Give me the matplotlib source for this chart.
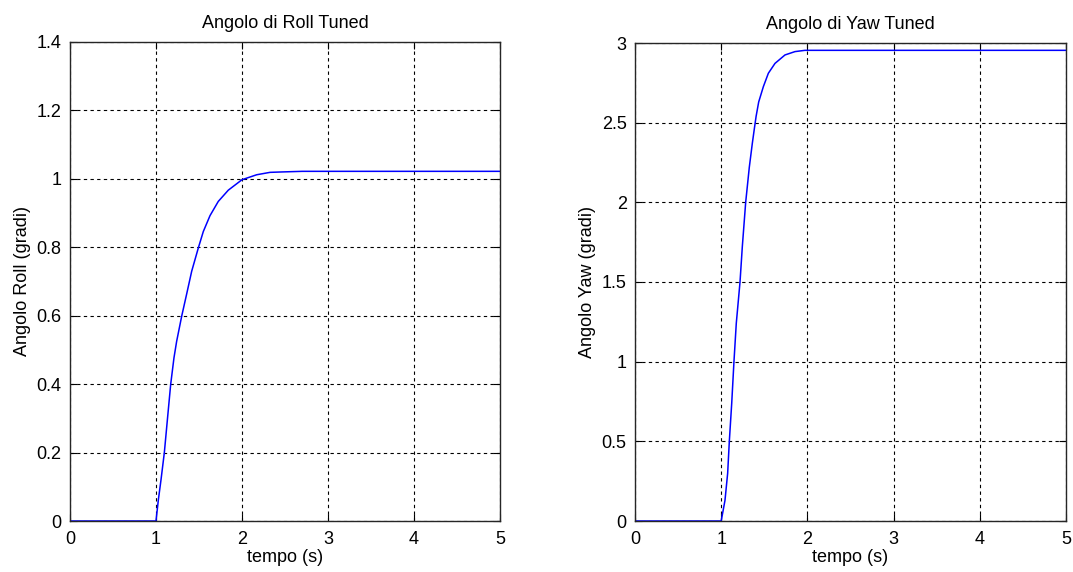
import matplotlib
matplotlib.use("Agg")
import matplotlib.pyplot as plt

plt.rcParams['font.family'] = ['Liberation Sans', 'DejaVu Sans']

# Roll step response (degrees)
roll_t = [0.0, 1.0, 1.027, 1.058, 1.097, 1.132, 1.171, 1.209, 1.24, 1.299, 1.357,
          1.415, 1.492, 1.55, 1.628, 1.724, 1.841, 2.0, 2.171, 2.326, 2.44, 2.7, 3.0, 5.0]
roll_y = [0.0, 0.0, 0.061, 0.12, 0.20, 0.295, 0.40, 0.477, 0.525, 0.599, 0.664,
          0.730, 0.798, 0.846, 0.8925, 0.934, 0.967, 0.9975, 1.012, 1.019, 1.020, 1.022, 1.022, 1.022]

# Yaw step response (degrees)
yaw_t = [0.0, 1.0, 1.044, 1.075, 1.094, 1.122, 1.148, 1.175, 1.218, 1.245, 1.284,
         1.326, 1.361, 1.384, 1.405, 1.435, 1.489, 1.547, 1.624, 1.74, 1.856, 1.972, 5.0]
yaw_y = [0.0, 0.0, 0.13, 0.30, 0.498, 0.739, 1.0, 1.241, 1.498, 1.722, 2.0,
         2.22, 2.37, 2.46, 2.54, 2.63, 2.726, 2.81, 2.872, 2.925, 2.946, 2.954, 2.954]

x_ticks = [0, 1, 2, 3, 4, 5]
roll_yticks = [0, 0.2, 0.4, 0.6, 0.8, 1.0, 1.2, 1.4]
yaw_yticks = [0, 0.5, 1.0, 1.5, 2.0, 2.5, 3.0]

W, H = 1073, 572
fig = plt.figure(figsize=(W / 100, H / 100), dpi=100)

ax1 = fig.add_axes([70 / W, (H - 521) / H, 430 / W, 479 / H])
ax2 = fig.add_axes([635 / W, (H - 521) / H, 431 / W, 478 / H])

fs = 13


def style(ax, t, y, yticks, ylim, title, ylabel, ytl):
    ax.plot(t, y, color='#0000ff', lw=1.1)
    ax.set_xlim(0, 5)
    ax.set_ylim(*ylim)
    ax.set_xticks(x_ticks)
    ax.set_xticklabels([str(v) for v in x_ticks], fontsize=fs)
    ax.set_yticks(yticks)
    ax.set_yticklabels(ytl, fontsize=fs)
    ax.grid(True, color='black', linestyle=(0, (3, 3)), linewidth=0.8)
    ax.tick_params(direction='in', top=True, right=True, length=5, width=0.8)
    ax.tick_params(axis='x', pad=7)
    ax.tick_params(axis='y', pad=6)
    for s in ax.spines.values():
        s.set_linewidth(1.0)
        s.set_color('#262626')
    ax.set_title(title, fontsize=fs, pad=10)
    ax.set_xlabel('tempo (s)', fontsize=fs, labelpad=1)
    ax.set_ylabel(ylabel, fontsize=fs, labelpad=4)


style(ax1, roll_t, roll_y, roll_yticks, (0, 1.4), 'Angolo di Roll Tuned',
      'Angolo Roll (gradi)', ['0', '0.2', '0.4', '0.6', '0.8', '1', '1.2', '1.4'])
style(ax2, yaw_t, yaw_y, yaw_yticks, (0, 3), 'Angolo di Yaw Tuned',
      'Angolo Yaw (gradi)', ['0', '0.5', '1', '1.5', '2', '2.5', '3'])

fig.savefig('out.png', dpi=100)
